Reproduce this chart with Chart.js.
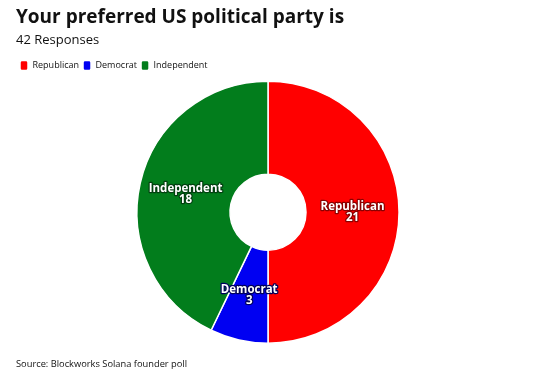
<!DOCTYPE html>
<html>
<head>
<meta charset="utf-8">
<script src="https://cdn.jsdelivr.net/npm/chart.js@4"></script>
<style>
  html, body { margin: 0; padding: 0; background: #fff; }
  #wrap { width: 536px; height: 383px; }
</style>
</head>
<body>
<div id="wrap"><canvas id="pie"></canvas></div>
<script>
const partyLabels = ['Republican', 'Democrat', 'Independent'];
const partyCounts = [21, 3, 18];
const partyColors = ['#ff0000', '#0000f2', '#027d1c'];
const labelOutline = ['#8a0000', '#00005a', '#024010'];

const titleText = 'Your preferred US political party is';
const subtitleText = '42 Responses';
const sourceText = 'Source: Blockworks Solana founder poll';

const FONT = '"Open Sans", Lato, sans-serif';

// white labels with name + count at the middle of each slice
const sliceLabels = {
  id: 'sliceLabels',
  afterDatasetsDraw(chart) {
    const ctx = chart.ctx;
    const meta = chart.getDatasetMeta(0);
    ctx.save();
    ctx.font = 'bold 11.5px ' + FONT;
    ctx.textAlign = 'center';
    ctx.textBaseline = 'middle';
    ctx.lineJoin = 'round';
    meta.data.forEach((arc, i) => {
      const p = arc.tooltipPosition();
      const lines = [partyLabels[i], String(partyCounts[i])];
      lines.forEach((t, k) => {
        const y = p.y - 5 + k * 11;
        ctx.lineWidth = 2.5;
        ctx.strokeStyle = labelOutline[i];
        ctx.strokeText(t, p.x, y);
        ctx.fillStyle = '#ffffff';
        ctx.fillText(t, p.x, y);
      });
    });
    ctx.restore();
  }
};

const sourceNote = {
  id: 'sourceNote',
  afterDraw(chart) {
    const ctx = chart.ctx;
    ctx.save();
    ctx.font = '9.3px ' + FONT;
    ctx.fillStyle = '#111';
    ctx.textAlign = 'left';
    ctx.textBaseline = 'middle';
    ctx.fillText(sourceText, 16, 364);
    ctx.restore();
  }
};

new Chart(document.getElementById('pie'), {
  type: 'doughnut',
  data: {
    labels: partyLabels,
    datasets: [{
      data: partyCounts,
      backgroundColor: partyColors,
      borderColor: '#ffffff',
      borderWidth: 1.5
    }]
  },
  options: {
    responsive: true,
    maintainAspectRatio: false,
    animation: false,
    cutout: '29%',
    layout: { padding: { top: 0, bottom: 39, left: 16, right: 16 } },
    plugins: {
      title: {
        display: true,
        text: titleText,
        align: 'start',
        color: '#111',
        font: { family: FONT, size: 19, weight: 'bold' },
        padding: { top: 6, bottom: 2 }
      },
      subtitle: {
        display: true,
        text: subtitleText,
        align: 'start',
        color: '#111',
        font: { family: FONT, size: 13 },
        padding: { top: 2, bottom: 8 }
      },
      legend: {
        position: 'top',
        align: 'start',
        labels: {
          boxWidth: 8,
          boxHeight: 10,
          padding: 4,
          color: '#111',
          font: { family: FONT, size: 9 },
          useBorderRadius: true,
          borderRadius: 2
        }
      },
      tooltip: { enabled: false }
    }
  },
  plugins: [sliceLabels, sourceNote]
});
</script>
</body>
</html>
